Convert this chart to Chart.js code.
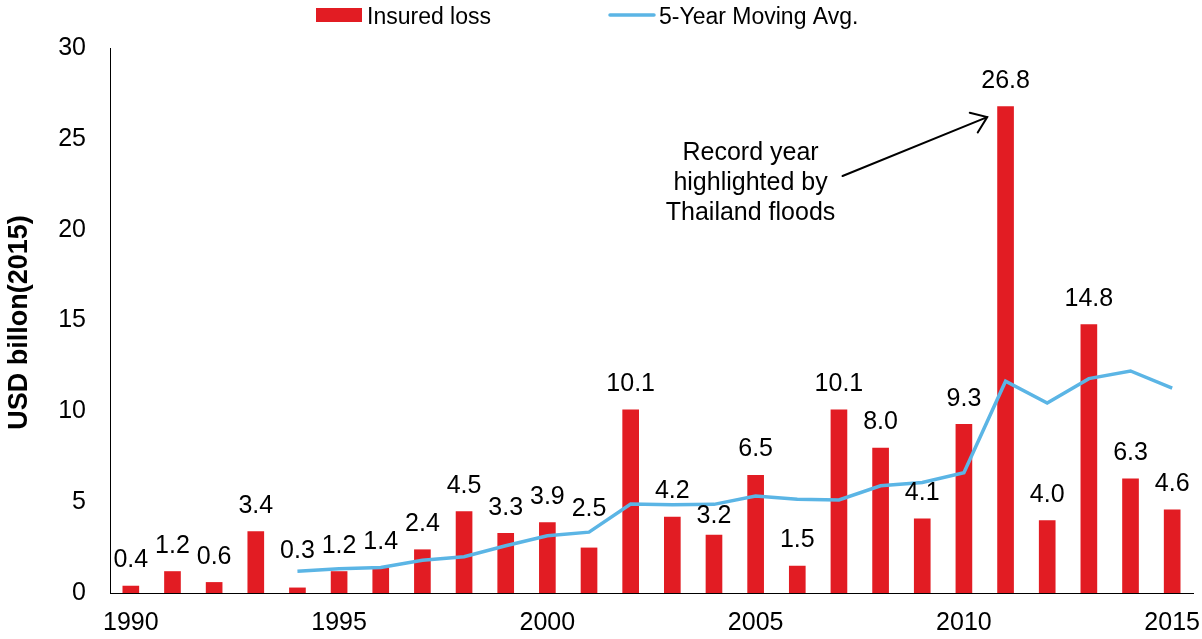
<!DOCTYPE html>
<html>
<head>
<meta charset="utf-8">
<title>Insured loss</title>
<script src="https://cdn.jsdelivr.net/npm/chart.js@4.4.0/dist/chart.umd.min.js"></script>
<style>
  html, body { margin: 0; padding: 0; background: #ffffff; }
  canvas { display: block; }
</style>
</head>
<body>
<canvas id="chart" width="1202" height="639"></canvas>
<script>
// Years on the category axis
const years = ['1990','1991','1992','1993','1994','1995','1996','1997','1998','1999',
               '2000','2001','2002','2003','2004','2005','2006','2007','2008','2009',
               '2010','2011','2012','2013','2014','2015'];

// Insured loss per year, USD billion (2015 prices)
const insuredLoss = [0.4, 1.2, 0.6, 3.4, 0.3, 1.2, 1.4, 2.4, 4.5, 3.3,
                     3.9, 2.5, 10.1, 4.2, 3.2, 6.5, 1.5, 10.1, 8.0, 4.1,
                     9.3, 26.8, 4.0, 14.8, 6.3, 4.6];

// 5-year moving average (starts once five years are available)
const movingAvg = [null, null, null, null, 1.2, 1.34, 1.4, 1.8, 2.0, 2.6,
                   3.15, 3.35, 4.9, 4.86, 4.88, 5.34, 5.16, 5.12, 5.9, 6.08,
                   6.62, 11.66, 10.46, 11.8, 12.22, 11.28];

// Axis tick labels
const yTicks = [0, 5, 10, 15, 20, 25, 30];
const xTickYears = ['1990', '1995', '2000', '2005', '2010', '2015'];

// Series names
const seriesNames = ['Insured loss', '5-Year Moving Avg.'];

// Text
const yTitle = 'USD billon(2015)';
const noteLines = ['Record year', 'highlighted by', 'Thailand floods'];
const noteYear = '2011';

// Value labels that sit higher/lower than the default to clear the line
const labelLift = { '1994': 11, '2001': 13, '2004': -6.5 };

const FONT = "'Liberation Sans', Arial, Helvetica, sans-serif";
const RED = '#E21C23';
const BLUE = '#5BB5E5';

Chart.defaults.font.family = FONT;
Chart.defaults.color = '#000000';

const decorations = {
  id: 'decorations',
  afterDatasetsDraw(chart) {
    const ctx = chart.ctx;
    const barMeta = chart.getDatasetMeta(1);
    const area = chart.chartArea;

    // value labels above each bar
    ctx.save();
    ctx.font = '25px ' + FONT;
    ctx.fillStyle = '#000000';
    ctx.textAlign = 'center';
    ctx.textBaseline = 'alphabetic';
    barMeta.data.forEach((bar, i) => {
      const lift = labelLift[years[i]] || 0;
      ctx.fillText(insuredLoss[i].toFixed(1), bar.x, bar.y - 18.5 - lift);
    });
    ctx.restore();

    // note with arrow pointing at the record year
    const rec = barMeta.data[years.indexOf(noteYear)];
    const noteX = rec.x - 255;
    ctx.save();
    ctx.font = '25px ' + FONT;
    ctx.fillStyle = '#000000';
    ctx.textAlign = 'center';
    ctx.textBaseline = 'alphabetic';
    noteLines.forEach((t, k) => ctx.fillText(t, noteX, area.top + 112 + k * 30));

    const sx = noteX + 92, sy = area.top + 128;
    const tx = rec.x - rec.width / 2 - 10, ty = rec.y + 11;
    const ang = Math.atan2(ty - sy, tx - sx);
    const head = 18, spread = Math.PI / 5;
    ctx.strokeStyle = '#000000';
    ctx.lineWidth = 2;
    ctx.lineCap = 'round';
    ctx.beginPath();
    ctx.moveTo(sx, sy);
    ctx.lineTo(tx, ty);
    ctx.moveTo(tx - head * Math.cos(ang - spread), ty - head * Math.sin(ang - spread));
    ctx.lineTo(tx, ty);
    ctx.lineTo(tx - head * Math.cos(ang + spread), ty - head * Math.sin(ang + spread));
    ctx.stroke();
    ctx.restore();
  },
  afterDraw(chart) {
    const ctx = chart.ctx;
    const area = chart.chartArea;

    // rotated y axis title
    ctx.save();
    ctx.translate(20, (area.top + area.bottom) / 2 + 2);
    ctx.rotate(-Math.PI / 2);
    ctx.font = 'bold 27px ' + FONT;
    ctx.fillStyle = '#000000';
    ctx.textAlign = 'center';
    ctx.textBaseline = 'middle';
    ctx.fillText(yTitle, 0, 0);
    ctx.restore();

    // legend row
    const bar = chart.data.datasets[1];
    const line = chart.data.datasets[0];
    ctx.save();
    ctx.font = '23px ' + FONT;
    ctx.textBaseline = 'alphabetic';
    ctx.textAlign = 'left';
    ctx.fillStyle = bar.backgroundColor;
    ctx.fillRect(316, 8, 46, 14);
    ctx.fillStyle = '#000000';
    ctx.fillText(bar.label, 367, 24);
    ctx.strokeStyle = line.borderColor;
    ctx.lineWidth = line.borderWidth;
    ctx.lineCap = 'round';
    ctx.beginPath();
    ctx.moveTo(610, 15);
    ctx.lineTo(654, 15);
    ctx.stroke();
    ctx.fillText(line.label, 659, 24);
    ctx.restore();
  }
};

new Chart(document.getElementById('chart'), {
  data: {
    labels: years,
    datasets: [
      {
        type: 'line',
        label: seriesNames[1],
        data: movingAvg,
        borderColor: BLUE,
        backgroundColor: BLUE,
        borderWidth: 3.5,
        pointRadius: 0,
        tension: 0,
        order: 1
      },
      {
        type: 'bar',
        label: seriesNames[0],
        data: insuredLoss,
        backgroundColor: RED,
        borderWidth: 0,
        barPercentage: 0.4,
        categoryPercentage: 1.0,
        order: 2
      }
    ]
  },
  options: {
    responsive: false,
    animation: false,
    devicePixelRatio: 1,
    layout: { padding: { top: 48, right: 9, bottom: 0, left: 0 } },
    plugins: {
      legend: { display: false },
      tooltip: { enabled: false }
    },
    scales: {
      x: {
        type: 'category',
        offset: true,
        grid: { display: false, drawTicks: false },
        border: { display: true, color: '#000000', width: 1 },
        ticks: {
          autoSkip: false,
          maxRotation: 0,
          padding: 15,
          font: { size: 25 },
          color: '#000000',
          callback: (v, i) => (xTickYears.includes(years[i]) ? years[i] : null)
        },
        afterFit: s => {
          s.height = 46;
          s.paddingLeft = 0;
          s.paddingRight = 0;
        }
      },
      y: {
        min: 0,
        max: 30,
        grid: { display: false, drawTicks: false },
        border: { display: true, color: '#000000', width: 1 },
        ticks: { padding: 24, font: { size: 25 }, color: '#000000' },
        afterBuildTicks: s => { s.ticks = yTicks.map(v => ({ value: v })); },
        afterFit: s => { s.width = 110; }
      }
    }
  },
  plugins: [decorations]
});
</script>
</body>
</html>
